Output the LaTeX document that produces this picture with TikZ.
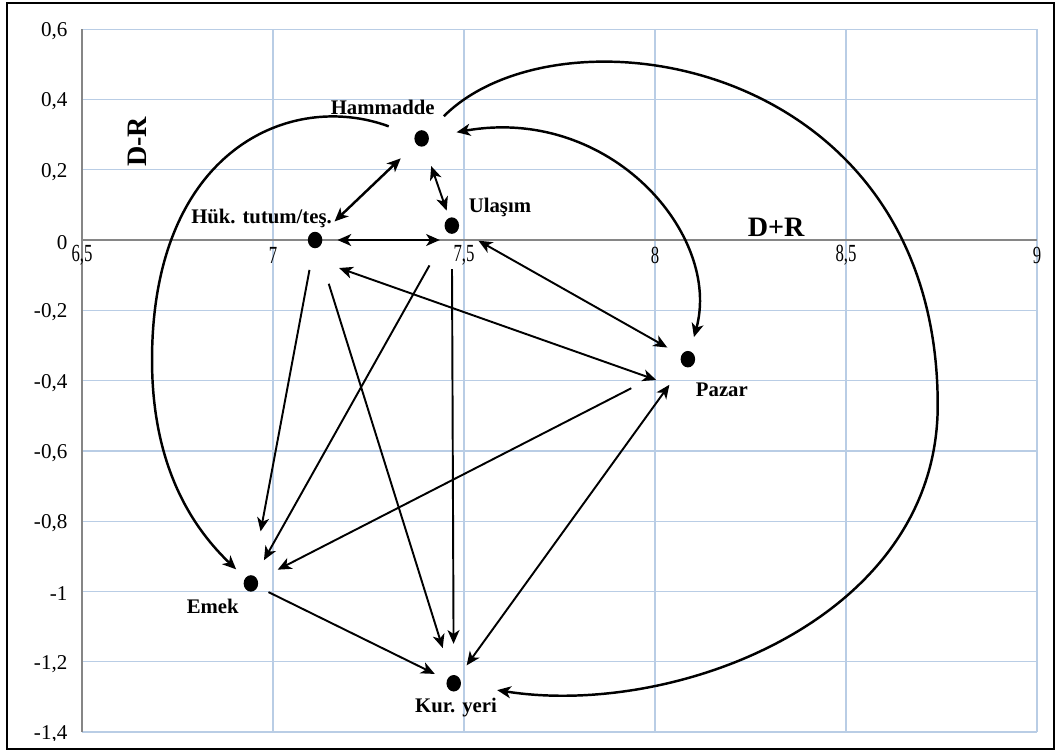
\documentclass[tikz,border=0pt]{standalone}
\usepackage{fontspec}
\usepackage{graphicx}
\setmainfont{Liberation Serif}
\usetikzlibrary{arrows.meta,shapes.geometric}

\definecolor{gridblue}{HTML}{B9CDE5}
\definecolor{axisgray}{HTML}{868686}

\tikzset{
  dot/.style={ellipse, fill=black, inner sep=0pt, minimum width=1.45mm, minimum height=1.65mm},
  lbl/.style={font=\fontsize{5.9}{7}\selectfont\bfseries, inner sep=0pt},
  axlbl/.style={font=\fontsize{8}{9}\selectfont\bfseries, inner sep=0pt},
  tip/.tip={Stealth[length=3.9pt,width=3.4pt,inset=1.1pt]},
  conn/.style={line width=0.55pt, -tip},
  both/.style={line width=0.55pt, tip-tip},
}

\begin{document}
\begin{tikzpicture}[x=3.82cm, y=3.515cm]
  \useasboundingbox (6.2853,-1.4566) rectangle (9.0471,0.6828);

  % grid
  \foreach \y in {0.6,0.4,0.2,-0.2,-0.4,-0.6,-0.8,-1,-1.2,-1.4}
    \draw [gridblue, line width=0.35pt] (6.5,\y) -- (9,\y);
  \foreach \x in {7,7.5,8,8.5,9}
    \draw [gridblue, line width=0.35pt] (\x,-1.4) -- (\x,0.6);

  % axes
  \draw [axisgray, line width=0.6pt] (6.5,-1.4) -- (6.5,0.6);
  \draw [axisgray, line width=0.7pt] (6.5,0) -- (9,0);

  % tick labels
  \foreach \y/\t [count=\i] in {0.6/{0,6},0.4/{0,4},0.2/{0,2},0/0,-0.2/{-0,2},-0.4/{-0,4},
      -0.6/{-0,6},-0.8/{-0,8},-1/-1,-1.2/{-1,2}}
    \node [anchor=east, inner sep=0pt, font=\fontsize{6}{7}\selectfont] (ytick\i) at (6.4634,\y-0.006) {\t};
  \begin{scope}
    \clip (6.2853,-1.4225) rectangle (6.5,-1.3);
    \node [anchor=east, inner sep=0pt, font=\fontsize{6}{7}\selectfont] (ytick11) at (6.4634,-1.406) {-1,4};
  \end{scope}
  \foreach \x/\t [count=\i] in {6.5/{6,5},7/7,7.5/{7,5},8/8,8.5/{8,5},9/9}
    \node [inner sep=0pt, font=\fontsize{7}{8}\selectfont] (xtick\i) at (\x,-0.043) {\scalebox{0.68}[1]{\t}};

  \node [axlbl, rotate=90] (dr) at (6.644,0.279) {D-R};
  \node [axlbl] (dpr) at (8.317,0.037) {D+R};

  % factors
  \node [dot] (hammadde) at (7.389,0.289) {};
  \node [dot] (ulasim) at (7.468,0.041) {};
  \node [dot] (huk) at (7.110,0.0) {};
  \node [dot] (pazar) at (8.086,-0.339) {};
  \node [dot] (emek) at (6.942,-0.977) {};
  \node [dot] (kur) at (7.473,-1.261) {};

  \node [lbl] (lhammadde) at (7.287,0.376) {Hammadde};
  \node [lbl] (lulasim) at (7.594,0.094) {Ulaşım};
  \node [lbl] (lhuk) at (6.970,0.060) {Hük. tutum/teş.};
  \node [lbl] (lpazar) at (8.175,-0.427) {Pazar};
  \node [lbl] (lemek) at (6.842,-1.041) {Emek};
  \node [lbl] (lkur) at (7.479,-1.331) {Kur. yeri};

  % straight links
  \draw [both, shorten <=0.145cm, shorten >=0.12cm] (huk) -- (huk -| ulasim);
  \draw [both, line width=0.7pt, shorten <=0.185cm, shorten >=0.205cm] (huk) -- (hammadde);
  \draw [both, shorten <=0.205cm, shorten >=0.07cm] (hammadde) -- (ulasim);
  \draw [both, shorten <=0.255cm, shorten >=0.336cm] ([yshift=-0.195cm]huk.center) -- ([yshift=-0.32cm]pazar.center);
  \draw [both, shorten <=0.225cm, shorten >=0.155cm] (ulasim) -- (pazar);
  \draw [conn, shorten <=0.555cm, shorten >=0.22cm] (pazar) -- (emek);
  \draw [both, shorten <=0.135cm, shorten >=0.23cm] (kur) -- (pazar);
  \draw [conn, shorten <=0.215cm, shorten >=0.44cm] (huk) -- (emek);
  \draw [conn, shorten <=0.37cm, shorten >=0.18cm] (ulasim) -- (emek);
  \draw [conn, shorten <=0.37cm, shorten >=0.28cm] (huk) -- (kur);
  \draw [conn, shorten <=0.345cm, shorten >=0.305cm] (ulasim) -- (kur);
  \draw [conn, shorten <=0.115cm, shorten >=0.13cm] (emek) -- (kur);

  % curved links
  \draw [conn, line width=0.7pt, shorten <=0.23cm, shorten >=0.36cm]
    (hammadde) .. controls (7.7513,0.6828) and (8.74,0.52) .. (8.74,-0.47)
    .. controls (8.74,-1.08) and (8.05,-1.36) .. (kur);
  \draw [both, line width=0.7pt, shorten <=0.275cm, shorten >=0.14cm]
    (hammadde) .. controls (7.8822,0.3841) and (8.1754,0.0142) .. (pazar);
  \draw [conn, line width=0.7pt, shorten <=0.27cm, shorten >=0.12cm]
    (hammadde) .. controls (7.0445,0.4267) and (6.6832,0.256) .. (6.6832,-0.3414)
    .. controls (6.6832,-0.6543) and (6.7958,-0.825) .. (emek);

  % frame
  \draw [line width=0.6pt] (6.3037,-1.4481) rectangle (9.0445,0.6743);
\end{tikzpicture}
\end{document}
